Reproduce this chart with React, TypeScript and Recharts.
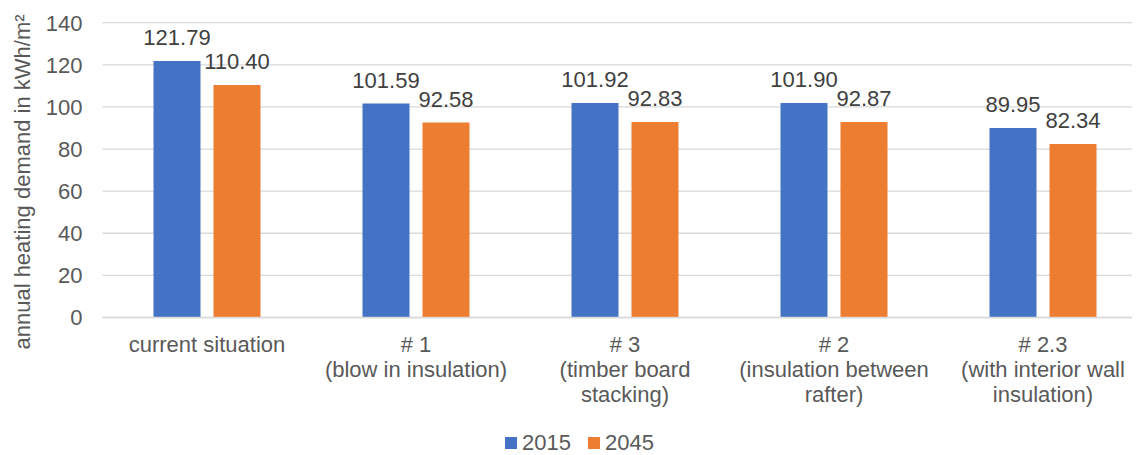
import React from 'react';
import { BarChart, Bar, XAxis, YAxis, CartesianGrid, LabelList } from 'recharts';

const FONT = '"Liberation Sans", Arial, sans-serif';
const AXIS_TEXT = '#595959';
const LABEL_TEXT = '#404040';
const GRID = '#d9d9d9';

// Scenario names, line breaks as they wrap under the axis
const categories = [
  'current situation',
  '# 1\n(blow in insulation)',
  '# 3\n(timber board\nstacking)',
  '# 2\n(insulation between\nrafter)',
  '# 2.3\n(with interior wall\ninsulation)',
];
const demand2015 = [121.79, 101.59, 101.92, 101.9, 89.95];
const demand2045 = [110.4, 92.58, 92.83, 92.87, 82.34];
const yTicks = [0, 20, 40, 60, 80, 100, 120, 140];

const series = [
  { key: 'y2015', name: '2015', color: '#4472C4' },
  { key: 'y2045', name: '2045', color: '#ED7D31' },
];

const data = categories.map((category, i) => ({
  category,
  y2015: demand2015[i],
  y2045: demand2045[i],
}));

const CategoryTick = (props: any) => {
  const { x, y, payload } = props;
  const lines = String(payload.value).split('\n');
  return (
    <text x={x} y={y} textAnchor="middle" fill={AXIS_TEXT} fontSize={22} fontFamily={FONT}>
      {lines.map((line, i) => (
        <tspan key={i} x={x} dy={i === 0 ? 34.5 : 25}>
          {line}
        </tspan>
      ))}
    </text>
  );
};

const yTitle = () => (
  <text
    x={0}
    y={0}
    transform="translate(14, 174) rotate(-90)"
    textAnchor="middle"
    dominantBaseline="central"
    fill={AXIS_TEXT}
    fontSize={22}
    fontFamily={FONT}
  >
    annual heating demand in kWh/m²
  </text>
);

const App: React.FC = () => {
  return (
    <div style={{ position: 'relative', width: 1132, height: 447, overflow: 'hidden' }}>
      <BarChart
        width={1150}
        height={447}
        data={data}
        margin={{ top: 14.7, right: 10.5, left: 0, bottom: 77.5 }}
        barSize={47}
        barGap={13}
      >
        <CartesianGrid vertical={false} stroke={GRID} strokeWidth={1.3} />
        <XAxis
          dataKey="category"
          height={60}
          axisLine={{ stroke: GRID, strokeWidth: 1.5 }}
          tickLine={false}
          tickSize={0}
          tickMargin={0}
          interval={0}
          tick={<CategoryTick />}
        />
        <YAxis
          width={94.5}
          domain={[0, 140]}
          ticks={yTicks}
          axisLine={false}
          tickLine={false}
          tickSize={0}
          tickMargin={20}
          tick={{ fill: AXIS_TEXT, fontSize: 22, fontFamily: FONT }}
          label={yTitle}
        />
        {series.map((s) => (
          <Bar key={s.key} dataKey={s.key} name={s.name} fill={s.color} isAnimationActive={false}>
            <LabelList
              dataKey={s.key}
              position="top"
              offset={16}
              formatter={(v: any) => Number(v).toFixed(2)}
              style={{ fill: LABEL_TEXT, fontSize: 22, fontFamily: FONT }}
            />
          </Bar>
        ))}
      </BarChart>
      <div
        style={{
          position: 'absolute',
          left: 497,
          top: 424,
          display: 'flex',
          alignItems: 'center',
          height: 22,
          lineHeight: '22px',
          fontFamily: FONT,
          fontSize: 22,
          color: AXIS_TEXT,
        }}
      >
        {series.map((s, i) => (
          <div key={s.key} style={{ display: 'flex', alignItems: 'center', marginLeft: i === 0 ? 0 : 17 }}>
            <span style={{ width: 12, height: 12, background: s.color, marginRight: 5 }} />
            <span>{s.name}</span>
          </div>
        ))}
      </div>
    </div>
  );
};

export default App;
